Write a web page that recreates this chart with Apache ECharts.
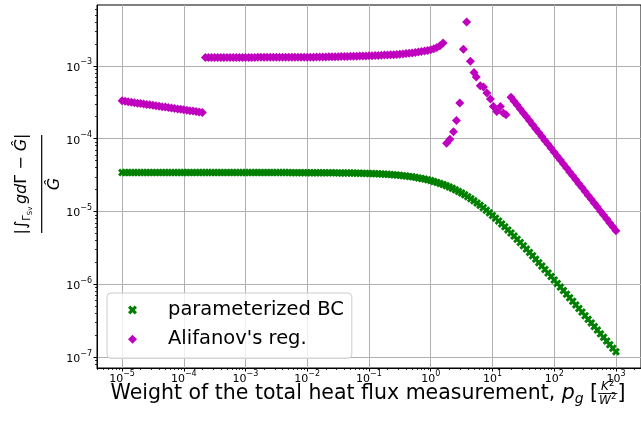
<!DOCTYPE html>
<html>
<head>
<meta charset="utf-8">
<script src="https://cdn.jsdelivr.net/npm/echarts@6/dist/echarts.min.js"></script>
<style>
  html, body { margin: 0; padding: 0; background: #fff; }
  #chart { width: 641px; height: 423px; }
</style>
</head>
<body>
<div id="chart"></div>
<script>
// weights p_g, as powers of ten
const pgExp = [
  -5, -4.95, -4.9, -4.85, -4.8, -4.75, -4.7, -4.65, -4.6, -4.55, -4.5, -4.45, -4.4, -4.35, -4.3, -4.25, -4.2, -4.15, -4.1, -4.05,
  -4, -3.95, -3.9, -3.85, -3.8, -3.75, -3.7, -3.65, -3.6, -3.55, -3.5, -3.45, -3.4, -3.35, -3.3, -3.25, -3.2, -3.15, -3.1, -3.05,
  -3, -2.95, -2.9, -2.85, -2.8, -2.75, -2.7, -2.65, -2.6, -2.55, -2.5, -2.45, -2.4, -2.35, -2.3, -2.25, -2.2, -2.15, -2.1, -2.05,
  -2, -1.95, -1.9, -1.85, -1.8, -1.75, -1.7, -1.65, -1.6, -1.55, -1.5, -1.45, -1.4, -1.35, -1.3, -1.25, -1.2, -1.15, -1.1, -1.05,
  -1, -0.95, -0.9, -0.85, -0.8, -0.75, -0.7, -0.65, -0.6, -0.55, -0.5, -0.45, -0.4, -0.35, -0.3, -0.25, -0.2, -0.15, -0.1, -0.05,
  0, 0.05, 0.1, 0.15, 0.2, 0.25, 0.3, 0.35, 0.4, 0.45, 0.5, 0.55, 0.6, 0.65, 0.7, 0.75, 0.8, 0.85, 0.9, 0.95,
  1, 1.05, 1.1, 1.15, 1.2, 1.25, 1.3, 1.35, 1.4, 1.45, 1.5, 1.55, 1.6, 1.65, 1.7, 1.75, 1.8, 1.85, 1.9, 1.95,
  2, 2.05, 2.1, 2.15, 2.2, 2.25, 2.3, 2.35, 2.4, 2.45, 2.5, 2.55, 2.6, 2.65, 2.7, 2.75, 2.8, 2.85, 2.9, 2.95,
  3
];

// parameterized BC
const paramBC = [
  3.42e-5, 3.42e-5, 3.42e-5, 3.42e-5, 3.42e-5, 3.42e-5, 3.42e-5, 3.42e-5, 3.42e-5, 3.42e-5, 3.42e-5, 3.42e-5, 3.42e-5, 3.42e-5, 3.42e-5, 3.42e-5, 3.42e-5, 3.42e-5, 3.42e-5, 3.42e-5,
  3.42e-5, 3.42e-5, 3.42e-5, 3.42e-5, 3.42e-5, 3.42e-5, 3.42e-5, 3.42e-5, 3.42e-5, 3.42e-5, 3.42e-5, 3.42e-5, 3.42e-5, 3.42e-5, 3.42e-5, 3.42e-5, 3.42e-5, 3.42e-5, 3.42e-5, 3.42e-5,
  3.42e-5, 3.42e-5, 3.42e-5, 3.42e-5, 3.42e-5, 3.42e-5, 3.42e-5, 3.42e-5, 3.42e-5, 3.42e-5, 3.42e-5, 3.42e-5, 3.42e-5, 3.42e-5, 3.42e-5, 3.41e-5, 3.41e-5, 3.41e-5, 3.41e-5, 3.41e-5,
  3.410e-5, 3.409e-5, 3.408e-5, 3.406e-5, 3.404e-5, 3.402e-5, 3.400e-5, 3.398e-5, 3.395e-5, 3.392e-5, 3.389e-5, 3.385e-5, 3.381e-5, 3.377e-5, 3.371e-5, 3.366e-5, 3.359e-5, 3.352e-5, 3.344e-5, 3.336e-5,
  3.325e-5, 3.313e-5, 3.301e-5, 3.287e-5, 3.271e-5, 3.254e-5, 3.235e-5, 3.213e-5, 3.190e-5, 3.164e-5, 3.135e-5, 3.104e-5, 3.069e-5, 3.031e-5, 2.990e-5, 2.944e-5, 2.895e-5, 2.842e-5, 2.784e-5, 2.723e-5,
  2.657e-5, 2.586e-5, 2.511e-5, 2.432e-5, 2.350e-5, 2.264e-5, 2.174e-5, 2.081e-5, 1.986e-5, 1.890e-5, 1.792e-5, 1.693e-5, 1.595e-5, 1.498e-5, 1.402e-5, 1.307e-5, 1.216e-5, 1.127e-5, 1.042e-5, 9.60e-6,
  8.83e-6, 8.10e-6, 7.41e-6, 6.76e-6, 6.16e-6, 5.60e-6, 5.08e-6, 4.60e-6, 4.16e-6, 3.76e-6, 3.39e-6, 3.055e-6, 2.75e-6, 2.47e-6, 2.22e-6, 1.99e-6, 1.79e-6, 1.60e-6, 1.435e-6, 1.285e-6,
  1.150e-6, 1.029e-6, 9.20e-7, 8.22e-7, 7.35e-7, 6.57e-7, 5.86e-7, 5.23e-7, 4.67e-7, 4.17e-7, 3.72e-7, 3.32e-7, 2.96e-7, 2.64e-7, 2.36e-7, 2.10e-7, 1.88e-7, 1.67e-7, 1.49e-7, 1.33e-7,
  1.19e-7
];

// Alifanov's regularisation on the same weights (null where the points scatter, see below)
const alifanov = [
  3.30e-4, 3.25e-4, 3.21e-4, 3.16e-4, 3.12e-4, 3.07e-4, 3.03e-4, 2.99e-4, 2.95e-4, 2.91e-4, 2.87e-4, 2.83e-4, 2.79e-4, 2.75e-4, 2.71e-4, 2.67e-4, 2.63e-4, 2.60e-4, 2.56e-4, 2.53e-4,
  2.49e-4, 2.46e-4, 2.42e-4, 2.39e-4, 2.36e-4, 2.32e-4, 2.29e-4, 1.30e-3, 1.30e-3, 1.30e-3, 1.30e-3, 1.30e-3, 1.30e-3, 1.30e-3, 1.30e-3, 1.30e-3, 1.30e-3, 1.30e-3, 1.30e-3, 1.30e-3,
  1.30e-3, 1.30e-3, 1.30e-3, 1.30e-3, 1.31e-3, 1.31e-3, 1.31e-3, 1.31e-3, 1.31e-3, 1.31e-3, 1.31e-3, 1.31e-3, 1.31e-3, 1.31e-3, 1.31e-3, 1.31e-3, 1.31e-3, 1.31e-3, 1.31e-3, 1.31e-3,
  1.31e-3, 1.31e-3, 1.31e-3, 1.32e-3, 1.32e-3, 1.32e-3, 1.32e-3, 1.33e-3, 1.33e-3, 1.33e-3, 1.33e-3, 1.34e-3, 1.34e-3, 1.34e-3, 1.35e-3, 1.35e-3, 1.35e-3, 1.36e-3, 1.36e-3, 1.36e-3,
  1.37e-3, 1.375e-3, 1.38e-3, 1.385e-3, 1.39e-3, 1.40e-3, 1.405e-3, 1.415e-3, 1.42e-3, 1.43e-3, 1.44e-3, 1.455e-3, 1.47e-3, 1.485e-3, 1.50e-3, 1.52e-3, 1.54e-3, 1.565e-3, 1.59e-3, 1.62e-3,
  1.66e-3, 1.71e-3, 1.78e-3, 1.88e-3, 2.05e-3, null, null, null, null, null, null, null, null, null, null, null, null, null, null, null,
  null, null, null, null, null, null, 3.70e-4, 3.27e-4, 2.89e-4, 2.55e-4, 2.25e-4, 1.99e-4, 1.76e-4, 1.55e-4, 1.37e-4, 1.21e-4, 1.07e-4, 9.45e-5, 8.35e-5, 7.37e-5,
  6.51e-5, 5.75e-5, 5.08e-5, 4.49e-5, 3.96e-5, 3.50e-5, 3.09e-5, 2.73e-5, 2.41e-5, 2.13e-5, 1.88e-5, 1.66e-5, 1.47e-5, 1.30e-5, 1.15e-5, 1.01e-5, 8.94e-6, 7.90e-6, 6.98e-6, 6.16e-6,
  5.44e-6
];

// scattered Alifanov points between p_g ~ 1.8 and ~ 17
const alifanovMidExp = [0.257, 0.31, 0.369, 0.417, 0.47, 0.529, 0.582, 0.642, 0.701, 0.738, 0.802, 0.855, 0.91, 0.967, 1.015, 1.07, 1.128, 1.176, 1.219];
const alifanovMid = [8.67e-5, 9.84e-5, 1.24e-4, 1.77e-4, 3.08e-4, 1.69e-3, 3.98e-3, 1.15e-3, 8.10e-4, 7.00e-4, 5.31e-4, 5.10e-4, 4.22e-4, 3.49e-4, 2.76e-4, 2.35e-4, 2.76e-4, 2.24e-4, 2.12e-4];

const seriesNames = ["parameterized BC", "Alifanov's reg."];
const xMajor = [1e-5, 1e-4, 1e-3, 1e-2, 1e-1, 1e0, 1e1, 1e2, 1e3];
const yMajor = [1e-7, 1e-6, 1e-5, 1e-4, 1e-3];

const X_MIN = 3.93e-6, X_MAX = 2547;
const Y_MIN = 7.13e-8, Y_MAX = 6.82e-3;
const FONT = "DejaVu Sans";

// minor ticks at 2..9 x 10^n
const minorTicks = (lo, hi) => {
  const out = [];
  for (let d = lo; d <= hi; d++) {
    for (let m = 2; m <= 9; m++) out.push(m * Math.pow(10, d));
  }
  return out;
};
const xMinor = minorTicks(-6, 3);
const yMinor = minorTicks(-8, -3);

const greenData = pgExp.map((e, i) => [Math.pow(10, e), paramBC[i]]);
const magentaData = pgExp
  .map((e, i) => [Math.pow(10, e), alifanov[i]])
  .filter(d => d[1] !== null)
  .concat(alifanovMidExp.map((e, i) => [Math.pow(10, e), alifanovMid[i]]));

// filled "X" marker, thick arms
const X_SYMBOL = "path://M0,2.6L2.6,0L5,2.4L7.4,0L10,2.6L7.6,5L10,7.4L7.4,10L5,7.6L2.6,10L0,7.4L2.4,5Z";

const powLabel = v => {
  const p = Math.round(Math.log10(v));
  return "{b|10}{e|" + (p < 0 ? "\u2212" + (-p) : p) + "}";
};
const labelRich = {
  b: { fontSize: 11, fontFamily: FONT, color: "#000", lineHeight: 15, verticalAlign: "bottom" },
  e: { fontSize: 8, fontFamily: FONT, color: "#000", lineHeight: 8, verticalAlign: "top" }
};

// text measuring for the hand-built axis titles
const measureCtx = document.createElement("canvas").getContext("2d");
const textW = (t, size, italic) => {
  measureCtx.font = (italic ? "italic " : "") + size + "px \"" + FONT + "\"";
  return measureCtx.measureText(t).width;
};
// zrender draws with a 'middle' baseline; shift so y is the alphabetic baseline
const txt = (t, x, y, size, italic) => ({
  type: "text",
  x: x,
  y: y - 0.297 * size,
  style: {
    text: t,
    fontSize: size,
    fontFamily: FONT,
    fontStyle: italic ? "italic" : "normal",
    fill: "#000",
    align: "left",
    verticalAlign: "middle"
  }
});

// lay out a run of pieces left to right, returns elements and total width
const layoutRun = (pieces, x0, base) => {
  const els = [];
  let x = x0;
  pieces.forEach(p => {
    if (p.frac) {
      const nw = p.num.reduce((s, q) => s + textW(q.t, q.size, q.italic), 0);
      const dw = p.den.reduce((s, q) => s + textW(q.t, q.size, q.italic), 0);
      const w = Math.max(nw, dw) + 2;
      let nx = x + (w - nw) / 2;
      p.num.forEach(q => { els.push(txt(q.t, nx, base + p.numDy + (q.dy || 0), q.size, q.italic)); nx += textW(q.t, q.size, q.italic); });
      let dx = x + (w - dw) / 2;
      p.den.forEach(q => { els.push(txt(q.t, dx, base + p.denDy + (q.dy || 0), q.size, q.italic)); dx += textW(q.t, q.size, q.italic); });
      els.push({ type: "line", shape: { x1: x, y1: base + p.barDy, x2: x + w, y2: base + p.barDy }, style: { stroke: "#000", lineWidth: 0.9 } });
      x += w;
    } else {
      els.push(txt(p.t, x, base + (p.dy || 0), p.size, p.italic));
      x += textW(p.t, p.size, p.italic);
    }
  });
  return { els, width: x - x0 };
};

const xTitlePieces = [
  { t: "Weight of the total heat flux measurement, ", size: 20.5 },
  { t: "p", size: 20.5, italic: true },
  { t: "g", size: 14, italic: true, dy: 4 },
  { t: " [", size: 20.5 },
  {
    frac: true, barDy: -6, numDy: -9, denDy: 4.5,
    num: [{ t: "K", size: 12, italic: true }, { t: "2", size: 8.5, dy: -4.5 }],
    den: [{ t: "W", size: 12, italic: true }, { t: "2", size: 8.5, dy: -4.5 }]
  },
  { t: "]", size: 20.5 }
];
const xTitleW = layoutRun(xTitlePieces, 0, 0).width;
const xTitle = layoutRun(xTitlePieces, 368 - xTitleW / 2, 399.5).els;

// y title: |∫_{Γ_Sv} gdΓ − Ĝ| over Ĝ, drawn in a rotated group
const yNumPieces = [
  { t: "|", size: 16 },
  { t: "\u222B", size: 16 },
  { t: "\u0393", size: 10, dy: 4 },
  { t: "Sv", size: 7, dy: 6 },
  { t: " ", size: 8 },
  { t: "gd", size: 16, italic: true },
  { t: "\u0393 \u2212 ", size: 16 },
  { t: "\u011C", size: 16, italic: true },
  { t: "|", size: 16 }
];
const yNumW = layoutRun(yNumPieces, 0, 0).width;
const yNum = layoutRun(yNumPieces, -yNumW / 2, -15.5).els;
const denW = textW("\u011C", 16, true);
const yTitle = {
  type: "group",
  x: 41.7,
  y: 184,
  rotation: Math.PI / 2,
  children: yNum.concat([
    { type: "line", shape: { x1: -49, y1: 0, x2: 49, y2: 0 }, style: { stroke: "#000", lineWidth: 1.2 } },
    txt("\u011C", -denW / 2, 18, 16, true)
  ])
};

const chart = echarts.init(document.getElementById("chart"), null, { renderer: "canvas" });

const option = {
  animation: false,
  backgroundColor: "#fff",
  grid: {
    left: 97, top: 5, width: 549, height: 363,
    show: true, borderColor: "#000", borderWidth: 1, backgroundColor: "transparent"
  },
  legend: {
    data: seriesNames,
    orient: "vertical",
    left: 107,
    top: 293,
    itemWidth: 9,
    itemHeight: 9,
    itemGap: 7.3,
    padding: [6, 8, 8, 21],
    backgroundColor: "rgba(255,255,255,0.8)",
    borderColor: "#cccccc",
    borderWidth: 1,
    borderRadius: 4,
    textStyle: { fontSize: 19.5, fontFamily: FONT, color: "#000", lineHeight: 22, padding: [0, 0, 0, 26] }
  },
  xAxis: [
    {
      type: "log", logBase: 10, min: X_MIN, max: X_MAX,
      axisLine: { lineStyle: { color: "#000", width: 1 } },
      axisTick: { customValues: xMajor, length: 3.5, lineStyle: { color: "#000", width: 1 } },
      axisLabel: { customValues: xMajor, formatter: powLabel, rich: labelRich, margin: 2 },
      splitLine: { show: true, lineStyle: { color: "#b0b0b0", width: 1 } }
    },
    {
      type: "log", logBase: 10, min: X_MIN, max: X_MAX, position: "bottom",
      axisLine: { show: false },
      axisTick: { customValues: xMinor, length: 2, lineStyle: { color: "#000", width: 0.8 } },
      axisLabel: { show: false },
      splitLine: { show: false }
    }
  ],
  yAxis: [
    {
      type: "log", logBase: 10, min: Y_MIN, max: Y_MAX,
      axisLine: { lineStyle: { color: "#000", width: 1 } },
      axisTick: { customValues: yMajor, length: 3.5, lineStyle: { color: "#000", width: 1 } },
      axisLabel: { customValues: yMajor, formatter: powLabel, rich: labelRich, margin: 5 },
      splitLine: { show: true, lineStyle: { color: "#b0b0b0", width: 1 } }
    },
    {
      type: "log", logBase: 10, min: Y_MIN, max: Y_MAX, position: "left",
      axisLine: { show: false },
      axisTick: { customValues: yMinor, length: 2, lineStyle: { color: "#000", width: 0.8 } },
      axisLabel: { show: false },
      splitLine: { show: false }
    }
  ],
  graphic: { elements: xTitle.concat([yTitle]) },
  series: [
    {
      name: seriesNames[0],
      type: "scatter",
      symbol: X_SYMBOL,
      symbolSize: 8,
      itemStyle: { color: "#008000", opacity: 1 },
      data: greenData,
      silent: true
    },
    {
      name: seriesNames[1],
      type: "scatter",
      symbol: "diamond",
      symbolSize: 9,
      itemStyle: { color: "#bf00bf", opacity: 1 },
      data: magentaData,
      silent: true
    }
  ]
};

chart.setOption(option);
</script>
</body>
</html>
